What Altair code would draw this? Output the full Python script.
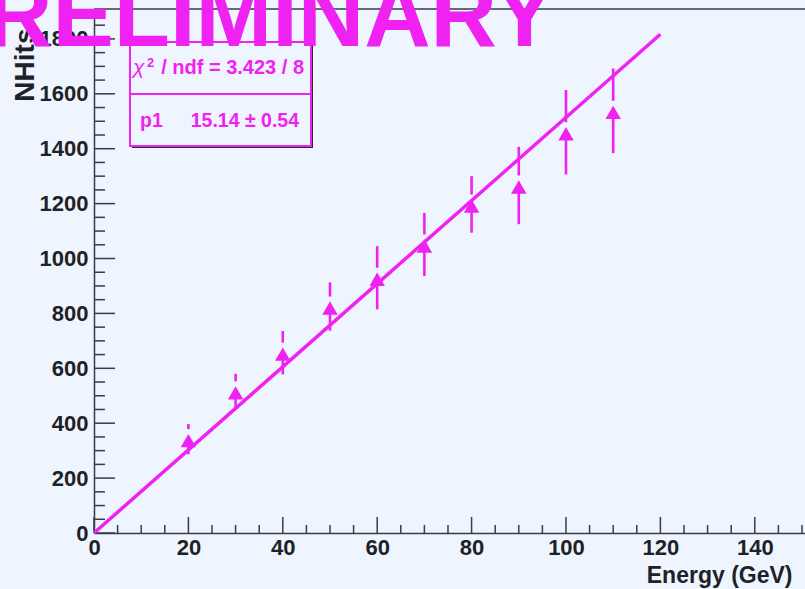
import altair as alt
import pandas as pd

# Measured points: beam energy (GeV), mean number of hits, and its error
energy = [20, 30, 40, 50, 60, 70, 80, 90, 100, 110]
nhits = [342, 516, 657, 825, 930, 1051, 1197, 1266, 1460, 1538]
nhits_err = [55, 64, 79, 88, 115, 115, 103, 141, 154, 154]

# Linear fit NHits = p1 * E
p1 = 15.14
p1_err = 0.54
chi2 = 3.423
ndf = 8
fit_range = [0, 120]

# Axis ticks
x_major = [0, 20, 40, 60, 80, 100, 120, 140]
x_minor = [v for v in range(0, 151, 5) if v % 20]
y_major = [0, 200, 400, 600, 800, 1000, 1200, 1400, 1600, 1800]
y_minor = [v for v in range(0, 1901, 50) if v % 200]

W, H = 711, 524
BG = "#EEF5FE"
MAG = "#EF22F2"
AXC = "#363D45"
FONT = "Liberation Sans"

xs = alt.Scale(domain=[0, 150.64], nice=False, zero=False)
ys = alt.Scale(domain=[0, 1909], nice=False, zero=False)

pts = pd.DataFrame({"E": energy, "N": nhits, "err": nhits_err})
pts["hi"] = pts["N"] + pts["err"]
pts["lo"] = pts["N"] - pts["err"]

fit = pd.DataFrame({"E": fit_range, "N": [p1 * e for e in fit_range]})

x_axis = alt.Axis(
    values=x_major, format="d", ticks=False, grid=False,
    domainColor=AXC, domainWidth=1.5, labelFlush=False, labelOverlap=False,
    labelFont=FONT, labelFontSize=22, labelFontWeight="bold", labelColor="#1E2226",
    labelPadding=4,
    title="Energy (GeV)", titleFont=FONT, titleFontSize=23, titleFontWeight="bold",
    titleColor="#1E2226", titleAlign="right", titleBaseline="alphabetic",
    titleX=698, titleY=49, titleAnchor="end",
)
y_axis = alt.Axis(
    values=y_major, format="d", ticks=False, grid=False,
    domainColor=AXC, domainWidth=1.5, labelFlush=False, labelOverlap=False,
    labelFont=FONT, labelFontSize=22, labelFontWeight="bold", labelColor="#1E2226",
    labelPadding=6,
    title="NHits", titleFont=FONT, titleFontSize=28, titleFontWeight="bold",
    titleColor="#1E2226", titleAngle=270, titleAlign="right", titleBaseline="alphabetic",
    titleX=-61, titleY=19, titleAnchor="end",
)

base = alt.Chart(pts)

# fitted straight line
fit_line = alt.Chart(fit).mark_line(color=MAG, strokeWidth=3.5).encode(
    x=alt.X("E:Q", scale=xs, axis=x_axis),
    y=alt.Y("N:Q", scale=ys, axis=y_axis),
)

# error bars with a small gap around the marker
err_up = base.mark_rule(color=MAG, strokeWidth=2.6, yOffset=-10).encode(
    x=alt.X("E:Q", scale=xs), y=alt.Y("N:Q", scale=ys), y2="hi:Q"
)
err_dn = base.mark_rule(color=MAG, strokeWidth=2.6, yOffset=6).encode(
    x=alt.X("E:Q", scale=xs), y=alt.Y("N:Q", scale=ys), y2="lo:Q"
)
markers = base.mark_point(
    shape="triangle-up", filled=True, size=240, color=MAG, opacity=1, yOffset=1.5
).encode(x=alt.X("E:Q", scale=xs), y=alt.Y("N:Q", scale=ys))

# inward ticks
xt_major = alt.Chart(pd.DataFrame({"v": x_major})).mark_rule(color=AXC, strokeWidth=1.5).encode(
    x=alt.X("v:Q", scale=xs), y=alt.value(H), y2=alt.value(H - 16)
)
xt_minor = alt.Chart(pd.DataFrame({"v": x_minor})).mark_rule(color=AXC, strokeWidth=1.5).encode(
    x=alt.X("v:Q", scale=xs), y=alt.value(H), y2=alt.value(H - 8)
)
yt_major = alt.Chart(pd.DataFrame({"v": y_major})).mark_rule(color=AXC, strokeWidth=1.5).encode(
    y=alt.Y("v:Q", scale=ys), x=alt.value(0), x2=alt.value(21)
)
yt_minor = alt.Chart(pd.DataFrame({"v": y_minor})).mark_rule(color=AXC, strokeWidth=1.5).encode(
    y=alt.Y("v:Q", scale=ys), x=alt.value(0), x2=alt.value(11)
)
one = pd.DataFrame({"k": [0]})
top_frame = alt.Chart(one).mark_rule(color=AXC, strokeWidth=1.5).encode(
    x=alt.value(0), x2=alt.value(W), y=alt.value(0)
)

# fit statistics box
box_shadow = alt.Chart(one).mark_rect(color="#2A2A2A").encode(
    x=alt.value(38), x2=alt.value(219), y=alt.value(35), y2=alt.value(139)
)
box = alt.Chart(one).mark_rect(fill=BG, stroke=MAG, strokeWidth=2).encode(
    x=alt.value(36), x2=alt.value(217), y=alt.value(33), y2=alt.value(137)
)
box_div = alt.Chart(one).mark_rule(color=MAG, strokeWidth=2).encode(
    x=alt.value(36), x2=alt.value(217), y=alt.value(85)
)
stat_style = dict(font=FONT, fontWeight="bold", color=MAG, baseline="alphabetic")
chi_sym = alt.Chart(one).mark_text(
    align="left", font=FONT, fontSize=21, color=MAG, baseline="alphabetic", fontStyle="italic"
).encode(x=alt.value(39), y=alt.value(65), text=alt.value("\u03c7"))
chi_exp = alt.Chart(one).mark_text(align="left", fontSize=13, **stat_style).encode(
    x=alt.value(53), y=alt.value(58), text=alt.value("2")
)
chi_txt = alt.Chart(one).mark_text(align="right", fontSize=20, **stat_style).encode(
    x=alt.value(210), y=alt.value(65), text=alt.value(f"/ ndf = {chi2:.3f} / {ndf}")
)
p1_name = alt.Chart(one).mark_text(align="left", fontSize=19.5, **stat_style).encode(
    x=alt.value(46), y=alt.value(118), text=alt.value("p1")
)
p1_val = alt.Chart(one).mark_text(align="right", fontSize=19.5, **stat_style).encode(
    x=alt.value(205), y=alt.value(118), text=alt.value(f"{p1:.2f} \u00b1 {p1_err:.2f}")
)

prelim = alt.Chart(one).mark_text(
    align="right", baseline="alphabetic", font=FONT, fontSize=92, fontWeight="bold", color=MAG
).encode(x=alt.value(461), y=alt.value(37), text=alt.value("PRELIMINARY"))

chart = alt.layer(
    xt_major, xt_minor, yt_major, yt_minor, top_frame,
    fit_line, err_up, err_dn, markers,
    box_shadow, box, box_div, chi_sym, chi_exp, chi_txt, p1_name, p1_val,
    prelim,
).properties(
    width=W, height=H,
    padding={"left": 94, "top": 9, "right": 0, "bottom": 56},
    autosize=alt.AutoSizeParams(type="none"),
    background=BG,
).configure_view(stroke=None)

chart.save("out.html", embed_options={"renderer": "svg", "actions": False})
